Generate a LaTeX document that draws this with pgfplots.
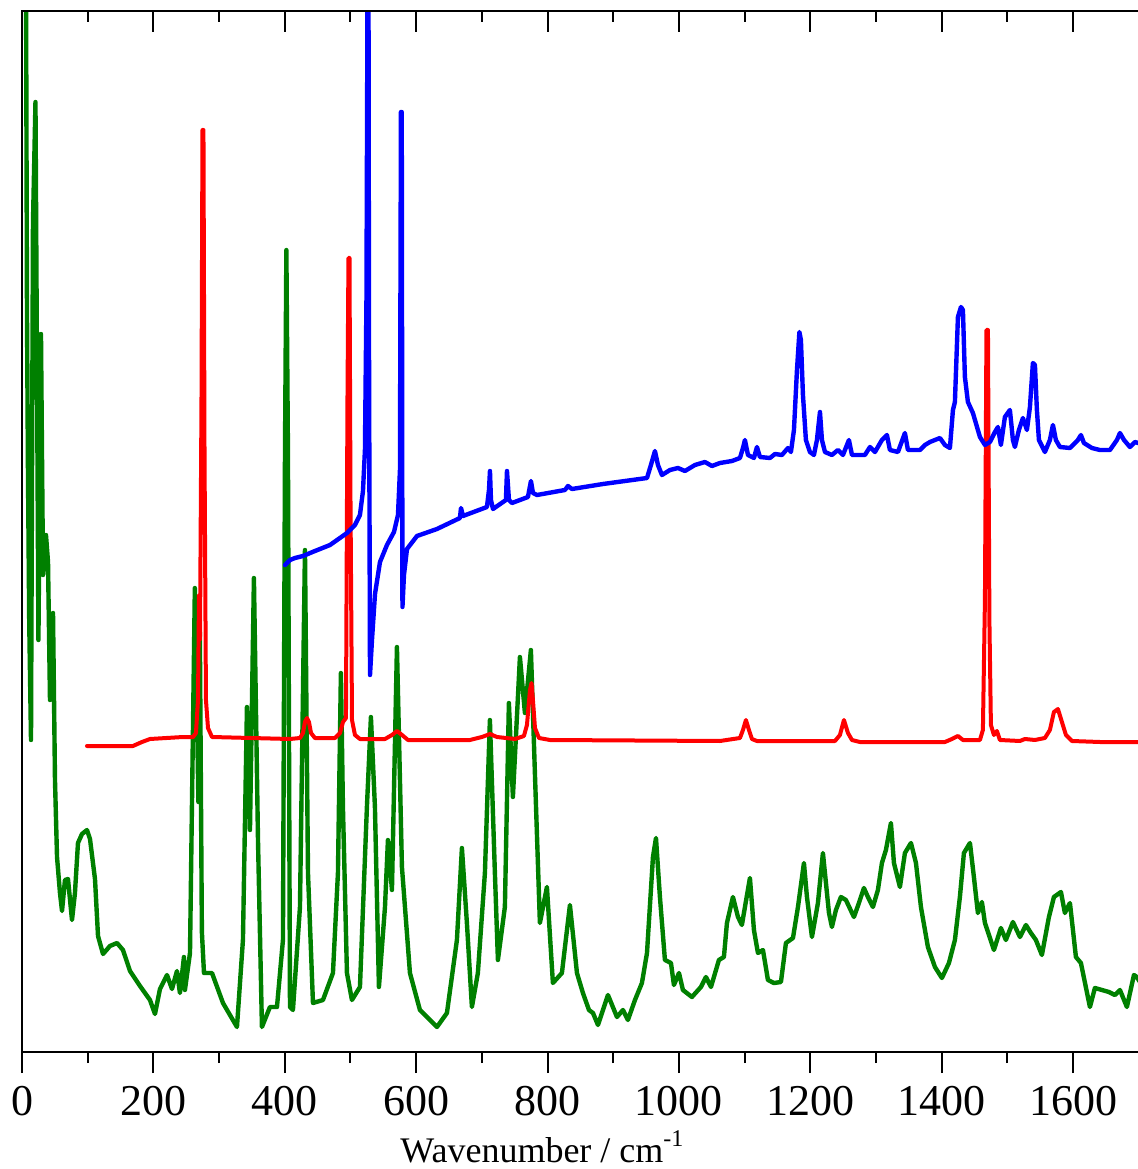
\documentclass[border=0pt]{standalone}
\usepackage{fontspec}
\setmainfont{Liberation Serif}
\usepackage{pgfplots}
\pgfplotsset{compat=1.18}
\definecolor{sgreen}{RGB}{0,128,0}
\definecolor{sred}{RGB}{255,0,0}
\definecolor{sblue}{RGB}{0,0,255}
\begin{document}
\begin{tikzpicture}
\path[use as bounding box] (-5.5pt,-29.25pt) rectangle (278.75pt,263pt);
\pgfplotsset{
  common/.style={
    at={(0,0)}, anchor=south west,
    scale only axis, width=282.5pt, height=260.25pt,
    xmin=0, xmax=1720, ymin=0, ymax=1041,
    ytick=\empty,
    xtick={0,200,...,1600}, minor x tick num=1,
    axis line style={line width=0.6pt},
    every tick/.style={black, line width=0.5pt},
    major tick length=5.25pt, minor tick length=2.75pt,
    scaled x ticks=false,
    /pgf/number format/1000 sep={},
    /pgf/number format/assume math mode=true,
  }
}
\begin{axis}[common, name=ax, xtick pos=bottom, tick align=outside,
  xticklabel style={font=\fontsize{11}{13}\selectfont, anchor=base, yshift=-10.5pt},
  xlabel={Wavenumber / cm\textsuperscript{-1}},
  xlabel style={font=\fontsize{9}{11}\selectfont, at={(axis description cs:0.461,0)}, anchor=base, yshift=-27.5pt},
  every axis plot/.append style={line join=round, line cap=round},
]
\addplot[sgreen, line width=1.1pt] coordinates {
(6,1100) (7.6,738) (9,588) (11,430) (13.7,312) (16.7,829) (20.5,950) (22.8,689) (25,412) (28.9,718) (32,477) (36.5,517) (39.6,490) (42.6,352) (47.2,439) (50.2,272) (53.3,195) (57.8,159) (60.9,141) (65.4,172) (70,173) (76.1,132) (80.6,159) (85.2,209) (91.3,218) (98.9,222) (103.5,213) (111.1,173) (115.7,116) (123.3,98) (133.9,106) (144.6,109) (153.7,102) (164.4,81) (179.6,66) (194.8,52) (202.4,38) (210,63) (220.7,77) (228.3,63) (235.9,81) (240.4,59) (246.5,95) (248,62) (255.7,99) (260,312) (263.1,464) (266.2,345) (268.5,250) (270.7,420) (273.8,120) (277,79) (289.2,79) (305.9,49) (327.2,25) (336.3,112) (342.4,345) (347,222) (353,474) (359.2,212) (365.2,25) (377.4,45) (388.1,45) (397.2,112) (400.3,600) (402.4,802) (404.8,600) (407.9,45) (412.4,42) (423.1,145) (430.7,502) (435.3,179) (442.9,49) (458.1,52) (473.3,79) (480.9,179) (485.4,379) (488.5,245) (494.6,79) (502.2,52) (514.4,65) (525,245) (531.1,335) (537.2,245) (543.3,65) (552.5,145) (557,212) (563.1,162) (570.7,405) (578.3,185) (590.5,79) (605.7,42) (631.6,25) (646.8,39) (662,112) (669.6,204) (677.2,129) (684.8,45) (693.9,79) (704.6,179) (712.2,332) (719.8,179) (724.4,92) (735,145) (741.1,349) (747.2,255) (757.9,395) (765.5,339) (774.6,402) (780.7,279) (788.3,129) (799,165) (808.1,69) (821.8,79) (834,147) (844.7,79) (853.8,59) (863,42) (869.1,39) (876.7,27) (884.3,42) (891.9,57) (905.6,35) (914.7,42) (922.3,32) (933,52) (943.6,69) (951.3,99) (960.4,195) (965,214) (971,155) (978.6,92) (987.8,89) (992.3,67) (1000,79) (1006,62) (1019.7,55) (1033.4,65) (1041,75) (1048.7,65) (1060.8,92) (1068.4,95) (1073,129) (1082.1,155) (1089.8,135) (1095.8,127) (1100.4,145) (1108,174) (1114.1,122) (1120.2,99) (1127.8,102) (1135.4,72) (1144.5,69) (1155.2,70) (1162.8,109) (1173.5,114) (1181.1,145) (1190.2,189) (1194.8,155) (1202.4,115) (1211.5,149) (1219.1,199) (1228.3,139) (1232.8,125) (1238.9,142) (1246.5,155) (1254.1,152) (1266.3,135) (1273.9,149) (1281.5,164) (1287.6,155) (1295.2,145) (1302.8,162) (1308.9,189) (1315,202) (1322.6,229) (1327.2,189) (1336.3,165) (1343.9,199) (1353.1,209) (1360.7,189) (1368.3,145) (1378.9,105) (1389.6,85) (1400.2,74) (1410.9,89) (1420,112) (1427.6,155) (1433.7,199) (1442.9,209) (1448.9,175) (1455,139) (1461.1,150) (1465.7,129) (1479.4,102) (1490,124) (1497.6,112) (1508.3,130) (1519,115) (1528.1,127) (1535.7,119) (1543.3,112) (1552.4,97) (1563.1,135) (1570.7,155) (1581.4,160) (1587.4,139) (1595.1,149) (1604.2,95) (1611.8,89) (1625.5,45) (1633.1,64) (1654.4,60) (1663.5,57) (1671.2,62) (1681.8,45) (1692.5,77) (1697,75) (1709,62)
};
\addplot[sred, line width=1pt] coordinates {
(98.9,306) (168.9,306) (182.6,310) (194.8,313) (245,315) (260.3,315) (264.8,319) (267.9,352) (269.4,457) (270.9,412) (273.2,652) (274.7,922) (276.2,922) (277.8,602) (280,352) (283.1,324) (289.2,315) (407.9,313) (423.1,314) (427.7,319) (430.7,330) (433.8,334) (436.8,330) (439.9,319) (445.9,314) (476.4,314) (484,319) (488.6,330) (493.1,334) (495.4,652) (496.9,794) (498.5,794) (500,552) (502.3,332) (506.8,317) (514.4,313) (552.5,313) (563.1,317) (570.8,321) (578.4,317) (587.5,312) (681.9,312) (700.1,315) (712.3,318) (723,315) (750.3,313) (764,316) (768.6,327) (773.2,362) (775.5,369) (777.7,352) (780.8,324) (786.9,314) (803.6,312) (1062.4,311) (1092.8,314) (1097.4,322) (1101.9,332) (1106.5,322) (1111.1,313) (1118.7,311) (1237.4,311) (1245,317) (1251.1,332) (1257.2,319) (1263.3,312) (1275.4,310) (1404.8,310) (1415.5,313) (1424.6,316) (1432.2,312) (1458.1,312) (1462.6,322) (1465.7,452) (1468,722) (1470.3,722) (1472.5,432) (1474.8,327) (1479.4,317) (1484,321) (1488.5,312) (1519,311) (1526.6,313) (1541.8,312) (1557,314) (1564.6,322) (1570.7,340) (1576.8,343) (1582.9,330) (1589,317) (1598.1,311) (1640.7,310) (1709,310)
};
\addplot[sblue, line width=1.1pt] coordinates {
(400.3,487) (407.9,492) (415.5,494) (427.7,496) (445.9,501) (468.8,507) (494.7,519) (506.8,527) (514.4,537) (519,561) (522,602) (524.3,752) (525.9,1060) (527.4,1060) (528.2,702) (529.7,377) (532.7,412) (537.3,458) (544.9,490) (555.5,507) (566.2,520) (572.3,537) (575.3,582) (576.8,940) (578,940) (579.1,445) (581.4,477) (586,503) (601.2,516) (631.6,523) (666.6,534) (668.2,544) (671.2,536) (707.7,545) (710.8,562) (712.3,581) (713.8,552) (716.9,543) (736.6,552) (738.2,581) (741.2,552) (745.8,549) (770.1,555) (774.7,571) (777.7,559) (783.8,557) (826.4,562) (831,566) (837.1,563) (884.3,568) (951.3,574) (957.3,587) (963.4,601) (968,587) (974.1,577) (986.3,582) (998.4,584) (1009.1,581) (1024.3,587) (1039.5,590) (1050.2,586) (1062.4,589) (1080.6,591) (1092.8,594) (1097.4,604) (1100.4,612) (1105,597) (1114.1,594) (1118.7,605) (1123.2,595) (1138.5,594) (1146.1,598) (1156.7,597) (1165.9,604) (1170.4,600) (1175,622) (1179.6,682) (1183.3,720) (1185.6,712) (1188.7,657) (1193.2,612) (1199.3,600) (1205.4,597) (1210,612) (1214.6,640) (1217.6,612) (1222.2,600) (1232.8,597) (1241.9,602) (1249.6,597) (1258.7,612) (1263.3,597) (1283,597) (1290.7,605) (1298.3,600) (1308.9,612) (1316.5,617) (1321.1,602) (1333.3,600) (1343.9,619) (1348.5,602) (1366.8,602) (1374.4,607) (1382,610) (1389.6,612) (1397.2,614) (1404.8,607) (1412.4,604) (1417,642) (1420,650) (1424.6,735) (1429.2,745) (1432.2,742) (1435.2,675) (1439.8,650) (1447.4,639) (1458.1,615) (1465.7,607) (1473.3,610) (1480.9,620) (1485.5,625) (1490,607) (1496.1,635) (1503.7,642) (1508.3,612) (1511.3,605) (1517.4,622) (1523.5,634) (1529.6,622) (1534.2,645) (1538.7,689) (1541.8,687) (1544.8,642) (1547.9,612) (1557,600) (1564.6,612) (1569.2,627) (1573.7,612) (1579.8,605) (1595.1,604) (1607.2,612) (1611.8,617) (1616.4,609) (1628.5,604) (1640.7,602) (1656,602) (1666.6,612) (1671.2,619) (1677.4,612) (1686.4,605) (1694,610) (1709,607)
};
\end{axis}
\begin{axis}[common, xtick pos=top, tick align=inside, xticklabels={}]
\end{axis}
\draw[line width=0.6pt] (ax.north west) -- (ax.north east);
\end{tikzpicture}
\end{document}
